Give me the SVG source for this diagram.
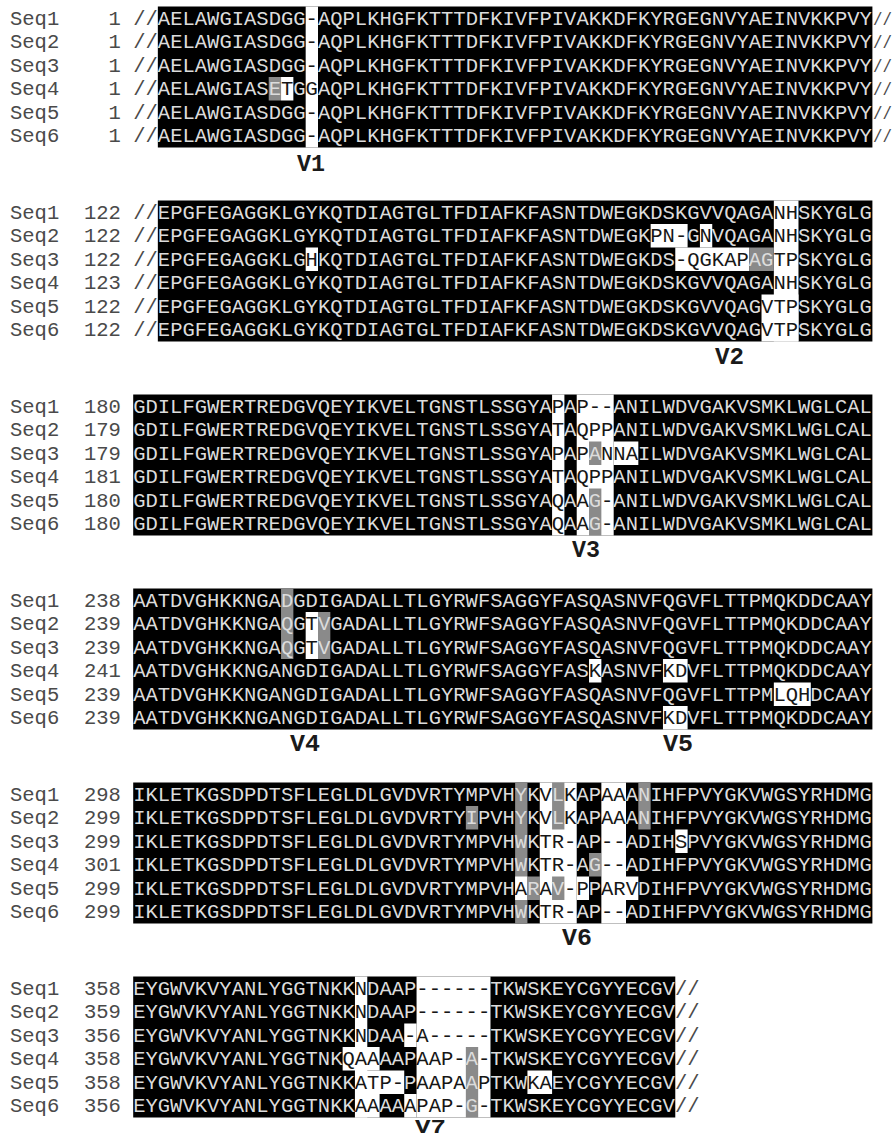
<svg xmlns="http://www.w3.org/2000/svg" width="894" height="1139" viewBox="0 0 894 1139">
<style>
text{font-family:"Liberation Mono",monospace;font-size:20.53px}
.l{fill:#4a4a4a}
.s{fill:#dcdcdc}
.d{fill:#161616}
.n{text-anchor:end}
.e{font-size:18px}
.v{font-weight:bold;font-size:24px;fill:#1a1a1a}
.k{fill:#000}
.g{fill:#8a8a8a}
.w{fill:#fff}
</style>
<rect width="894" height="1139" fill="#fff"/>

<g id="block1">
<rect class="k" x="157.84" y="6.5" width="714.56" height="141"/>
<rect class="w" x="305.68" y="6.5" width="12.32" height="141"/>
<rect class="g" x="268.72" y="77" width="12.32" height="23.5"/>
<rect class="w" x="281.04" y="77" width="12.32" height="23.5"/>
<text class="l" x="10" y="24.5">Seq1</text><text class="l n" x="120.88" y="24.5">1</text><text class="l" x="133.2" y="24.5">//</text>
<text class="l" x="10" y="48">Seq2</text><text class="l n" x="120.88" y="48">1</text><text class="l" x="133.2" y="48">//</text>
<text class="l" x="10" y="71.5">Seq3</text><text class="l n" x="120.88" y="71.5">1</text><text class="l" x="133.2" y="71.5">//</text>
<text class="l" x="10" y="95">Seq4</text><text class="l n" x="120.88" y="95">1</text><text class="l" x="133.2" y="95">//</text>
<text class="l" x="10" y="118.5">Seq5</text><text class="l n" x="120.88" y="118.5">1</text><text class="l" x="133.2" y="118.5">//</text>
<text class="l" x="10" y="142">Seq6</text><text class="l n" x="120.88" y="142">1</text><text class="l" x="133.2" y="142">//</text>
<text class="s" x="157.84" y="24.5">AELAWGIASDGG<tspan class="d">-</tspan>AQPLKHGFKTTTDFKIVFPIVAKKDFKYRGEGNVYAEINVKKPVY</text>
<text class="s" x="157.84" y="48">AELAWGIASDGG<tspan class="d">-</tspan>AQPLKHGFKTTTDFKIVFPIVAKKDFKYRGEGNVYAEINVKKPVY</text>
<text class="s" x="157.84" y="71.5">AELAWGIASDGG<tspan class="d">-</tspan>AQPLKHGFKTTTDFKIVFPIVAKKDFKYRGEGNVYAEINVKKPVY</text>
<text class="s" x="157.84" y="95">AELAWGIASE<tspan class="d">T</tspan>G<tspan class="d">G</tspan>AQPLKHGFKTTTDFKIVFPIVAKKDFKYRGEGNVYAEINVKKPVY</text>
<text class="s" x="157.84" y="118.5">AELAWGIASDGG<tspan class="d">-</tspan>AQPLKHGFKTTTDFKIVFPIVAKKDFKYRGEGNVYAEINVKKPVY</text>
<text class="s" x="157.84" y="142">AELAWGIASDGG<tspan class="d">-</tspan>AQPLKHGFKTTTDFKIVFPIVAKKDFKYRGEGNVYAEINVKKPVY</text>
<text class="l e" x="873" y="24.5" textLength="19" lengthAdjust="spacingAndGlyphs">//</text>
<text class="l e" x="873" y="48" textLength="19" lengthAdjust="spacingAndGlyphs">//</text>
<text class="l e" x="873" y="71.5" textLength="19" lengthAdjust="spacingAndGlyphs">//</text>
<text class="l e" x="873" y="95" textLength="19" lengthAdjust="spacingAndGlyphs">//</text>
<text class="l e" x="873" y="118.5" textLength="19" lengthAdjust="spacingAndGlyphs">//</text>
<text class="l e" x="873" y="142" textLength="19" lengthAdjust="spacingAndGlyphs">//</text>
</g>

<g id="block2">
<rect class="k" x="157.84" y="200.5" width="714.56" height="141"/>
<rect class="w" x="773.84" y="200.5" width="24.64" height="141"/>
<rect class="w" x="305.68" y="247.5" width="12.32" height="23.5"/>
<rect class="w" x="650.64" y="224" width="36.96" height="23.5"/>
<rect class="w" x="699.92" y="224" width="12.32" height="23.5"/>
<rect class="w" x="675.28" y="247.5" width="73.92" height="23.5"/>
<rect class="g" x="749.2" y="247.5" width="24.64" height="23.5"/>
<rect class="w" x="761.52" y="294.5" width="36.96" height="47"/>
<text class="l" x="10" y="218.5">Seq1</text><text class="l n" x="120.88" y="218.5">122</text><text class="l" x="133.2" y="218.5">//</text>
<text class="l" x="10" y="242">Seq2</text><text class="l n" x="120.88" y="242">122</text><text class="l" x="133.2" y="242">//</text>
<text class="l" x="10" y="265.5">Seq3</text><text class="l n" x="120.88" y="265.5">122</text><text class="l" x="133.2" y="265.5">//</text>
<text class="l" x="10" y="289">Seq4</text><text class="l n" x="120.88" y="289">123</text><text class="l" x="133.2" y="289">//</text>
<text class="l" x="10" y="312.5">Seq5</text><text class="l n" x="120.88" y="312.5">122</text><text class="l" x="133.2" y="312.5">//</text>
<text class="l" x="10" y="336">Seq6</text><text class="l n" x="120.88" y="336">122</text><text class="l" x="133.2" y="336">//</text>
<text class="s" x="157.84" y="218.5">EPGFEGAGGKLGYKQTDIAGTGLTFDIAFKFASNTDWEGKDSKGVVQAGA<tspan class="d">NH</tspan>SKYGLG</text>
<text class="s" x="157.84" y="242">EPGFEGAGGKLGYKQTDIAGTGLTFDIAFKFASNTDWEGK<tspan class="d">PN-</tspan>G<tspan class="d">N</tspan>VQAGA<tspan class="d">NH</tspan>SKYGLG</text>
<text class="s" x="157.84" y="265.5">EPGFEGAGGKLG<tspan class="d">H</tspan>KQTDIAGTGLTFDIAFKFASNTDWEGKDS<tspan class="d">-QGKAP</tspan>AG<tspan class="d">TP</tspan>SKYGLG</text>
<text class="s" x="157.84" y="289">EPGFEGAGGKLGYKQTDIAGTGLTFDIAFKFASNTDWEGKDSKGVVQAGA<tspan class="d">NH</tspan>SKYGLG</text>
<text class="s" x="157.84" y="312.5">EPGFEGAGGKLGYKQTDIAGTGLTFDIAFKFASNTDWEGKDSKGVVQAG<tspan class="d">VTP</tspan>SKYGLG</text>
<text class="s" x="157.84" y="336">EPGFEGAGGKLGYKQTDIAGTGLTFDIAFKFASNTDWEGKDSKGVVQAG<tspan class="d">VTP</tspan>SKYGLG</text>
</g>

<g id="block3">
<rect class="k" x="133.2" y="394.5" width="739.2" height="141"/>
<rect class="w" x="552.08" y="394.5" width="12.32" height="141"/>
<rect class="w" x="576.72" y="394.5" width="36.96" height="141"/>
<rect class="w" x="613.68" y="441.5" width="24.64" height="23.5"/>
<rect class="g" x="589.04" y="441.5" width="12.32" height="23.5"/>
<rect class="g" x="589.04" y="488.5" width="12.32" height="47"/>
<text class="l" x="10" y="412.5">Seq1</text><text class="l n" x="120.88" y="412.5">180</text>
<text class="l" x="10" y="436">Seq2</text><text class="l n" x="120.88" y="436">179</text>
<text class="l" x="10" y="459.5">Seq3</text><text class="l n" x="120.88" y="459.5">179</text>
<text class="l" x="10" y="483">Seq4</text><text class="l n" x="120.88" y="483">181</text>
<text class="l" x="10" y="506.5">Seq5</text><text class="l n" x="120.88" y="506.5">180</text>
<text class="l" x="10" y="530">Seq6</text><text class="l n" x="120.88" y="530">180</text>
<text class="s" x="133.2" y="412.5">GDILFGWERTREDGVQEYIKVELTGNSTLSSGYA<tspan class="d">P</tspan>A<tspan class="d">P--</tspan>ANILWDVGAKVSMKLWGLCAL</text>
<text class="s" x="133.2" y="436">GDILFGWERTREDGVQEYIKVELTGNSTLSSGYA<tspan class="d">T</tspan>A<tspan class="d">QPP</tspan>ANILWDVGAKVSMKLWGLCAL</text>
<text class="s" x="133.2" y="459.5">GDILFGWERTREDGVQEYIKVELTGNSTLSSGYA<tspan class="d">P</tspan>A<tspan class="d">P</tspan>A<tspan class="d">NNA</tspan>ILWDVGAKVSMKLWGLCAL</text>
<text class="s" x="133.2" y="483">GDILFGWERTREDGVQEYIKVELTGNSTLSSGYA<tspan class="d">T</tspan>A<tspan class="d">QPP</tspan>ANILWDVGAKVSMKLWGLCAL</text>
<text class="s" x="133.2" y="506.5">GDILFGWERTREDGVQEYIKVELTGNSTLSSGYA<tspan class="d">Q</tspan>A<tspan class="d">A</tspan>G<tspan class="d">-</tspan>ANILWDVGAKVSMKLWGLCAL</text>
<text class="s" x="133.2" y="530">GDILFGWERTREDGVQEYIKVELTGNSTLSSGYA<tspan class="d">Q</tspan>A<tspan class="d">A</tspan>G<tspan class="d">-</tspan>ANILWDVGAKVSMKLWGLCAL</text>
</g>

<g id="block4">
<rect class="k" x="133.2" y="588.5" width="739.2" height="141"/>
<rect class="g" x="281.04" y="588.5" width="12.32" height="70.5"/>
<rect class="w" x="305.68" y="612" width="12.32" height="47"/>
<rect class="g" x="318" y="612" width="12.32" height="47"/>
<rect class="w" x="589.04" y="659" width="12.32" height="23.5"/>
<rect class="w" x="662.96" y="659" width="24.64" height="23.5"/>
<rect class="w" x="773.84" y="682.5" width="36.96" height="23.5"/>
<rect class="w" x="662.96" y="706" width="24.64" height="23.5"/>
<text class="l" x="10" y="606.5">Seq1</text><text class="l n" x="120.88" y="606.5">238</text>
<text class="l" x="10" y="630">Seq2</text><text class="l n" x="120.88" y="630">239</text>
<text class="l" x="10" y="653.5">Seq3</text><text class="l n" x="120.88" y="653.5">239</text>
<text class="l" x="10" y="677">Seq4</text><text class="l n" x="120.88" y="677">241</text>
<text class="l" x="10" y="700.5">Seq5</text><text class="l n" x="120.88" y="700.5">239</text>
<text class="l" x="10" y="724">Seq6</text><text class="l n" x="120.88" y="724">239</text>
<text class="s" x="133.2" y="606.5">AATDVGHKKNGADGDIGADALLTLGYRWFSAGGYFASQASNVFQGVFLTTPMQKDDCAAY</text>
<text class="s" x="133.2" y="630">AATDVGHKKNGAQG<tspan class="d">T</tspan>VGADALLTLGYRWFSAGGYFASQASNVFQGVFLTTPMQKDDCAAY</text>
<text class="s" x="133.2" y="653.5">AATDVGHKKNGAQG<tspan class="d">T</tspan>VGADALLTLGYRWFSAGGYFASQASNVFQGVFLTTPMQKDDCAAY</text>
<text class="s" x="133.2" y="677">AATDVGHKKNGANGDIGADALLTLGYRWFSAGGYFAS<tspan class="d">K</tspan>ASNVF<tspan class="d">KD</tspan>VFLTTPMQKDDCAAY</text>
<text class="s" x="133.2" y="700.5">AATDVGHKKNGANGDIGADALLTLGYRWFSAGGYFASQASNVFQGVFLTTPM<tspan class="d">LQH</tspan>DCAAY</text>
<text class="s" x="133.2" y="724">AATDVGHKKNGANGDIGADALLTLGYRWFSAGGYFASQASNVF<tspan class="d">KD</tspan>VFLTTPMQKDDCAAY</text>
</g>

<g id="block5">
<rect class="k" x="133.2" y="782.5" width="739.2" height="141"/>
<rect class="g" x="465.84" y="806" width="12.32" height="23.5"/>
<rect class="g" x="515.12" y="782.5" width="12.32" height="141"/>
<rect class="w" x="515.12" y="876.5" width="12.32" height="23.5"/>
<rect class="g" x="527.44" y="876.5" width="12.32" height="23.5"/>
<rect class="w" x="539.76" y="782.5" width="36.96" height="141"/>
<rect class="g" x="552.08" y="782.5" width="12.32" height="47"/>
<rect class="g" x="552.08" y="876.5" width="12.32" height="23.5"/>
<rect class="w" x="576.72" y="876.5" width="12.32" height="23.5"/>
<rect class="g" x="589.04" y="853" width="12.32" height="23.5"/>
<rect class="w" x="601.36" y="782.5" width="24.64" height="141"/>
<rect class="w" x="626" y="876.5" width="12.32" height="23.5"/>
<rect class="g" x="638.32" y="782.5" width="12.32" height="47"/>
<rect class="w" x="675.28" y="829.5" width="12.32" height="23.5"/>
<text class="l" x="10" y="800.5">Seq1</text><text class="l n" x="120.88" y="800.5">298</text>
<text class="l" x="10" y="824">Seq2</text><text class="l n" x="120.88" y="824">299</text>
<text class="l" x="10" y="847.5">Seq3</text><text class="l n" x="120.88" y="847.5">299</text>
<text class="l" x="10" y="871">Seq4</text><text class="l n" x="120.88" y="871">301</text>
<text class="l" x="10" y="894.5">Seq5</text><text class="l n" x="120.88" y="894.5">299</text>
<text class="l" x="10" y="918">Seq6</text><text class="l n" x="120.88" y="918">299</text>
<text class="s" x="133.2" y="800.5">IKLETKGSDPDTSFLEGLDLGVDVRTYMPVHYK<tspan class="d">V</tspan>L<tspan class="d">K</tspan>AP<tspan class="d">AA</tspan>ANIHFPVYGKVWGSYRHDMG</text>
<text class="s" x="133.2" y="824">IKLETKGSDPDTSFLEGLDLGVDVRTYIPVHYK<tspan class="d">V</tspan>L<tspan class="d">K</tspan>AP<tspan class="d">AA</tspan>ANIHFPVYGKVWGSYRHDMG</text>
<text class="s" x="133.2" y="847.5">IKLETKGSDPDTSFLEGLDLGVDVRTYMPVHWK<tspan class="d">TR-</tspan>AP<tspan class="d">--</tspan>ADIH<tspan class="d">S</tspan>PVYGKVWGSYRHDMG</text>
<text class="s" x="133.2" y="871">IKLETKGSDPDTSFLEGLDLGVDVRTYMPVHWK<tspan class="d">TR-</tspan>AG<tspan class="d">--</tspan>ADIHFPVYGKVWGSYRHDMG</text>
<text class="s" x="133.2" y="894.5">IKLETKGSDPDTSFLEGLDLGVDVRTYMPVH<tspan class="d">A</tspan>R<tspan class="d">A</tspan>V<tspan class="d">-P</tspan>P<tspan class="d">ARV</tspan>DIHFPVYGKVWGSYRHDMG</text>
<text class="s" x="133.2" y="918">IKLETKGSDPDTSFLEGLDLGVDVRTYMPVHWK<tspan class="d">TR-</tspan>AP<tspan class="d">--</tspan>ADIHFPVYGKVWGSYRHDMG</text>
</g>

<g id="block6">
<rect class="k" x="133.2" y="976.5" width="542.08" height="141"/>
<rect class="w" x="354.96" y="976.5" width="12.32" height="141"/>
<rect class="w" x="342.64" y="1047" width="36.96" height="23.5"/>
<rect class="w" x="354.96" y="1070.5" width="49.28" height="23.5"/>
<rect class="w" x="354.96" y="1094" width="24.64" height="23.5"/>
<rect class="w" x="404.24" y="1023.5" width="12.32" height="23.5"/>
<rect class="w" x="404.24" y="1094" width="12.32" height="23.5"/>
<rect class="w" x="416.56" y="976.5" width="73.92" height="141"/>
<rect class="g" x="465.84" y="1047" width="12.32" height="70.5"/>
<rect class="w" x="527.44" y="1070.5" width="24.64" height="23.5"/>
<text class="l" x="10" y="994.5">Seq1</text><text class="l n" x="120.88" y="994.5">358</text>
<text class="l" x="10" y="1018">Seq2</text><text class="l n" x="120.88" y="1018">359</text>
<text class="l" x="10" y="1041.5">Seq3</text><text class="l n" x="120.88" y="1041.5">356</text>
<text class="l" x="10" y="1065">Seq4</text><text class="l n" x="120.88" y="1065">358</text>
<text class="l" x="10" y="1088.5">Seq5</text><text class="l n" x="120.88" y="1088.5">358</text>
<text class="l" x="10" y="1112">Seq6</text><text class="l n" x="120.88" y="1112">356</text>
<text class="s" x="133.2" y="994.5">EYGWVKVYANLYGGTNKK<tspan class="d">N</tspan>DAAP<tspan class="d">------</tspan>TKWSKEYCGYYECGV<tspan class="l">//</tspan></text>
<text class="s" x="133.2" y="1018">EYGWVKVYANLYGGTNKK<tspan class="d">N</tspan>DAAP<tspan class="d">------</tspan>TKWSKEYCGYYECGV<tspan class="l">//</tspan></text>
<text class="s" x="133.2" y="1041.5">EYGWVKVYANLYGGTNKK<tspan class="d">N</tspan>DAA<tspan class="d">-A-----</tspan>TKWSKEYCGYYECGV<tspan class="l">//</tspan></text>
<text class="s" x="133.2" y="1065">EYGWVKVYANLYGGTNK<tspan class="d">QAA</tspan>AAP<tspan class="d">AAP-</tspan>A<tspan class="d">-</tspan>TKWSKEYCGYYECGV<tspan class="l">//</tspan></text>
<text class="s" x="133.2" y="1088.5">EYGWVKVYANLYGGTNKK<tspan class="d">ATP-</tspan>P<tspan class="d">AAPA</tspan>A<tspan class="d">P</tspan>TKW<tspan class="d">KA</tspan>EYCGYYECGV<tspan class="l">//</tspan></text>
<text class="s" x="133.2" y="1112">EYGWVKVYANLYGGTNKK<tspan class="d">AA</tspan>AA<tspan class="d">APAP-</tspan>G<tspan class="d">-</tspan>TKWSKEYCGYYECGV<tspan class="l">//</tspan></text>
</g>

<g id="labels">
<text class="v" x="297" y="171" textLength="28" lengthAdjust="spacingAndGlyphs">V1</text>
<text class="v" x="715" y="364" textLength="29" lengthAdjust="spacingAndGlyphs">V2</text>
<text class="v" x="572" y="557" textLength="28" lengthAdjust="spacingAndGlyphs">V3</text>
<text class="v" x="290" y="751" textLength="30" lengthAdjust="spacingAndGlyphs">V4</text>
<text class="v" x="663" y="751" textLength="30" lengthAdjust="spacingAndGlyphs">V5</text>
<text class="v" x="562" y="945" textLength="30" lengthAdjust="spacingAndGlyphs">V6</text>
<text class="v" x="415" y="1133" textLength="31" lengthAdjust="spacingAndGlyphs" style="font-size:21px">V7</text>
</g>
</svg>
